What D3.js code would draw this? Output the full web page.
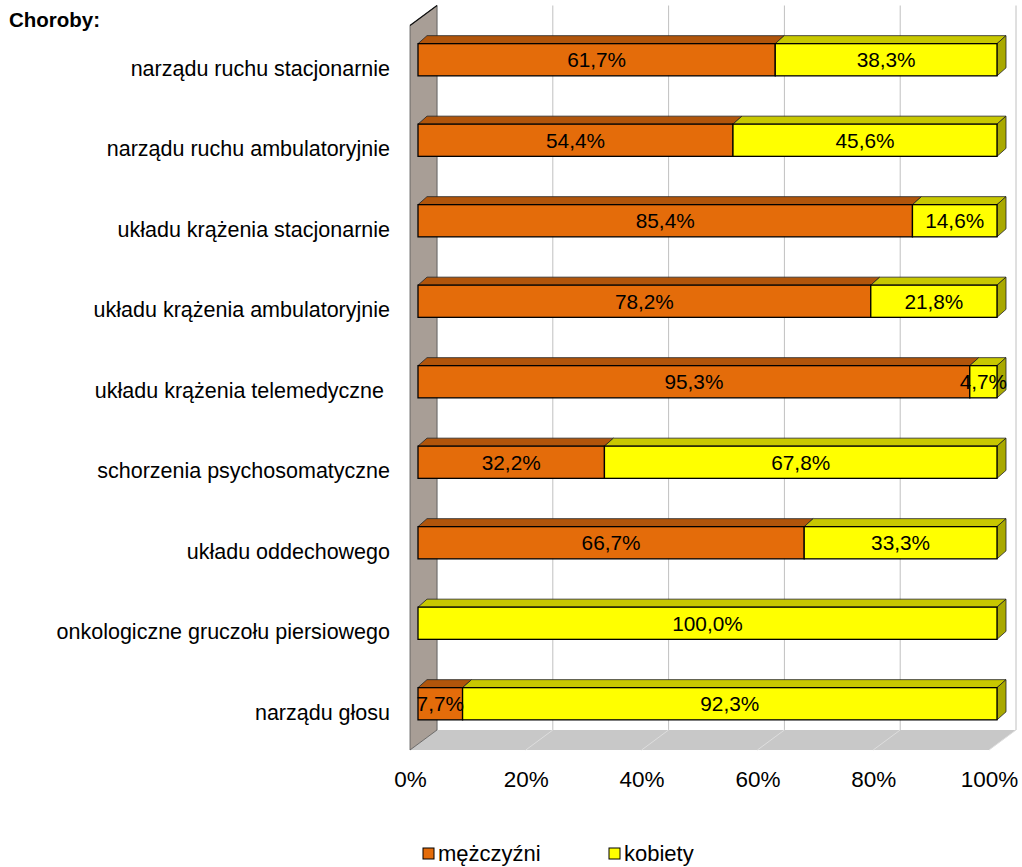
<!DOCTYPE html>
<html><head><meta charset="utf-8">
<script src="https://cdn.jsdelivr.net/npm/d3@7"></script>
<style>
body{margin:0;background:#fff;}
svg{font-family:"Liberation Sans",Arial,sans-serif;}
text{white-space:pre;}
</style></head>
<body>
<svg id="c" width="1022" height="867"></svg>
<script>
const categories = [
  "narządu ruchu stacjonarnie",
  "narządu ruchu ambulatoryjnie",
  "układu krążenia stacjonarnie",
  "układu krążenia ambulatoryjnie",
  "układu krążenia telemedyczne ",
  "schorzenia psychosomatyczne",
  "układu oddechowego",
  "onkologiczne gruczołu piersiowego",
  "narządu głosu"
];
const men   = [61.7, 54.4, 85.4, 78.2, 95.3, 32.2, 66.7, 0, 7.7];
const women = [38.3, 45.6, 14.6, 21.8, 4.7, 67.8, 33.3, 100.0, 92.3];
const seriesNames = ["mężczyźni", "kobiety"];
const xTicks = [0, 20, 40, 60, 80, 100];

const colors = {
  front: ["#e46c0a", "#ffff00"],
  top:   ["#b1550b", "#c8c800"],
  side:  ["#8f4508", "#a9a900"]
};

const svg = d3.select("#c");
const x0 = 410, x1 = 989, yTop = 25.5, yBot = 750;
const DX = 27, DY = -20;          // full depth of the plot box
const bdx = 8, bdy = -6;          // bar front offset
const bDepthX = 9, bDepthY = -8;  // bar depth

const x = d3.scaleLinear().domain([0, 100]).range([x0, x1]);
const y = d3.scaleBand().domain(categories).range([yTop, yBot]).paddingInner(0.6).paddingOuter(0.3);
const band = d3.scaleBand().domain(categories).range([yTop, yBot]);

// back gridlines
const grid = svg.append("g");
xTicks.forEach(t => {
  grid.append("line").attr("x1", x(t) + DX).attr("x2", x(t) + DX)
    .attr("y1", yTop + DY).attr("y2", yBot + DY)
    .attr("stroke", "#c0c0c0").attr("stroke-width", 1);
});

// floor
const pt = a => a.map(p => p.join(",")).join(" ");
svg.append("polygon")
  .attr("points", pt([[x0, yBot], [x0 + DX, yBot + DY], [x1 + DX, yBot + DY], [x1, yBot]]))
  .attr("fill", "#c8c8c8");
xTicks.forEach(t => {
  if (t === 0) return;
  svg.append("line").attr("x1", x(t) + DX).attr("y1", yBot + DY)
    .attr("x2", x(t)).attr("y2", yBot)
    .attr("stroke", "#dedede").attr("stroke-width", 1);
});

// side wall
svg.append("polygon")
  .attr("points", pt([[x0, yTop], [x0 + DX, yTop + DY], [x0 + DX, yBot + DY], [x0, yBot]]))
  .attr("fill", "#a89e96").attr("stroke", "#555").attr("stroke-width", 0.8);
svg.append("line").attr("x1", x0).attr("y1", yTop).attr("x2", x0 + DX).attr("y2", yTop + DY)
  .attr("stroke", "#111").attr("stroke-width", 1.2);

// bars
const bars = svg.append("g");
categories.forEach((c, i) => {
  const vals = [men[i], women[i]];
  let acc = 0;
  const by = y(c) + (band(c) + band.bandwidth() / 2 - (y(c) + y.bandwidth() / 2)) + bdy;
  const h = y.bandwidth();
  const segs = [];
  vals.forEach((v, s) => {
    if (v > 0) segs.push({ s, a: acc, b: acc + v, v });
    acc += v;
  });
  segs.forEach((g, k) => {
    const xa = x(g.a) + bdx, xb = x(g.b) + bdx;
    bars.append("polygon")
      .attr("points", pt([[xa, by], [xa + bDepthX, by + bDepthY], [xb + bDepthX, by + bDepthY], [xb, by]]))
      .attr("fill", colors.top[g.s]).attr("stroke", "#222").attr("stroke-width", 0.8).attr("stroke-linejoin", "round");
    if (k === segs.length - 1) {
      bars.append("polygon")
        .attr("points", pt([[xb, by], [xb + bDepthX, by + bDepthY], [xb + bDepthX, by + h + bDepthY], [xb, by + h]]))
        .attr("fill", colors.side[g.s]).attr("stroke", "#222").attr("stroke-width", 0.8).attr("stroke-linejoin", "round");
    }
    bars.append("rect").attr("x", xa).attr("y", by).attr("width", xb - xa).attr("height", h)
      .attr("fill", colors.front[g.s]).attr("stroke", "#000").attr("stroke-width", 1.3);
  });
  segs.forEach(g => {
    const xa = x(g.a) + bdx, xb = x(g.b) + bdx;
    bars.append("text").attr("x", (xa + xb) / 2).attr("y", by + h / 2)
      .attr("text-anchor", "middle").attr("dominant-baseline", "central")
      .attr("font-size", 20.8).attr("fill", "#000")
      .text(g.v.toFixed(1).replace(".", ",") + "%");
  });
  svg.append("text").attr("x", 390).attr("y", band(c) + band.bandwidth() / 2 + 3)
    .attr("text-anchor", "end").attr("dominant-baseline", "central")
    .attr("font-size", 21.5).attr("fill", "#000").text(c);
});

// x axis
const axis = d3.axisBottom(x).tickValues(xTicks).tickFormat(d => d + "%").tickSize(0).tickPadding(0);
const ax = svg.append("g").attr("transform", `translate(0,${yBot})`).call(axis);
ax.select(".domain").remove();
ax.selectAll("text").attr("font-size", 22.5).attr("font-family", "Liberation Sans, Arial, sans-serif")
  .attr("fill", "#000").attr("dy", null).attr("y", 37);

// title
svg.append("text").attr("x", 9).attr("y", 27).attr("font-size", 20.5).attr("font-weight", "bold").text("Choroby:");

// legend
const leg = svg.append("g");
const legX = [423, 609];
seriesNames.forEach((n, s) => {
  leg.append("rect").attr("x", legX[s]).attr("y", 848).attr("width", 11).attr("height", 11)
    .attr("fill", colors.front[s]).attr("stroke", "#000").attr("stroke-width", 1);
  leg.append("text").attr("x", legX[s] + 15).attr("y", 861).attr("font-size", 22).text(n);
});
</script>
</body></html>
